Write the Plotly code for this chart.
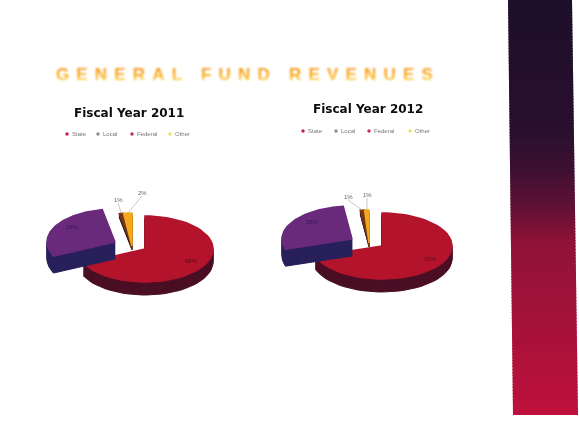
import numpy as np
import plotly.graph_objects as go

# General fund revenue shares by source, percent of total
sources = ["State", "Local", "Federal", "Other"]
fy2011 = [68, 29, 1, 2]
fy2012 = [70, 28, 1, 1]
panel_titles = ["Fiscal Year 2011", "Fiscal Year 2012"]
value_labels_2011 = ["68%", "29%", "1%", "2%"]
value_labels_2012 = ["70%", "28%", "1%", "1%"]
chart_title = "GENERAL FUND REVENUES"

top_colors = ["#b3142c", "#6a2a7c", "#7a3416", "#f4a81e"]
side_colors = ["#4a0f24", "#28205a", "#3a1a20", "#6a3a14"]
legend_colors = ["#c81e4a", "#8a8a98", "#c0305a", "#f2e060"]
label_colors = ["#5a0a18", "#3a1a55", "#666666", "#666666"]

W, H = 579, 425

# Pixel shift of each exploded slice, and how thick each slice is drawn
slice_shift = [(0, 0), (-30, 7), (-13, 3), (-13, 3)]
slice_depth = [13, 17, 4, 4]

fig = go.Figure()


def add_pie(values, labels, cx, cy, rx, ry, label_at):
    """Draw a tilted pie; angles run clockwise from 12 o'clock."""
    total = sum(values)
    angle = 0.0
    for i, v in enumerate(values):
        span = 360 * v / total
        ox, oy = cx + slice_shift[i][0], cy + slice_shift[i][1]
        depth = slice_depth[i]
        t = np.radians(np.linspace(angle, angle + span, 60))
        ex, ey = ox + rx * np.sin(t), oy + ry * np.cos(t)
        top_x, top_y = np.r_[ox, ex, ox], np.r_[oy, ey, oy]
        # stack copies of the outline downward to form the side wall
        for k in range(depth, 0, -1):
            fig.add_trace(go.Scatter(x=top_x, y=top_y - k, mode="lines", fill="toself",
                                     fillcolor=side_colors[i],
                                     line=dict(width=1, color=side_colors[i]),
                                     hoverinfo="skip", showlegend=False))
        fig.add_trace(go.Scatter(x=top_x, y=top_y, mode="lines", fill="toself",
                                 fillcolor=top_colors[i],
                                 line=dict(width=1.5, color=top_colors[i]),
                                 hoverinfo="skip", showlegend=False))
        lx, ly = label_at[i]
        if i >= 2:
            # thin leader from the small slices' labels to their rim
            mid = len(ex) // 2
            fig.add_trace(go.Scatter(x=[lx, ex[mid]], y=[ly - 3, ey[mid]], mode="lines",
                                     line=dict(width=0.6, color="#9aa890"),
                                     hoverinfo="skip", showlegend=False))
        fig.add_annotation(x=lx, y=ly, text=labels[i], showarrow=False,
                           font=dict(size=6, color=label_colors[i], family="Liberation Sans"))
        angle += span


add_pie(fy2011, value_labels_2011, 145, H - 249, 68, 33,
        [(191, H - 261), (72, H - 227), (118, H - 200), (142, H - 193)])
add_pie(fy2012, value_labels_2012, 382, H - 246, 70, 33,
        [(430, H - 259), (312, H - 222), (348, H - 197), (367, H - 195)])

# skewed vertical gradient band on the right edge, built from thin stacked strips
band_rows = np.array([0, 130, 170, 205, 240, 333, 415])
band_colors = np.array([[30, 15, 42], [40, 16, 46], [64, 16, 50], [96, 16, 54],
                        [144, 18, 56], [168, 18, 56], [192, 16, 62]])
for y0 in range(0, 415, 3):
    y1 = min(y0 + 4, 415)
    rgb = [int(np.interp(y0, band_rows, band_colors[:, c])) for c in range(3)]
    left0, left1 = 508 + 5 * y0 / 415, 508 + 5 * y1 / 415
    right0, right1 = 572 + 6 * y0 / 415, 572 + 6 * y1 / 415
    fig.add_shape(type="path", layer="below", line=dict(width=0),
                  fillcolor=f"rgb({rgb[0]},{rgb[1]},{rgb[2]})",
                  path=f"M{left0},{H - y0} L{right0},{H - y0} L{right1},{H - y1} L{left1},{H - y1} Z")

for title, x, y in zip(panel_titles, [129, 368], [113, 109]):
    fig.add_annotation(x=x, y=H - y, text=f"<b>{title}</b>", showarrow=False,
                       font=dict(size=12, color="#0c0c0c", family="DejaVu Sans"))

# legends, one row under each panel title
legend_rows = [(134, [67, 98, 132, 170]), (131, [303, 336, 369, 410])]
for y0, xs in legend_rows:
    for x, name, color in zip(xs, sources, legend_colors):
        fig.add_trace(go.Scatter(x=[x], y=[H - y0], mode="markers", showlegend=False, hoverinfo="skip",
                                 marker=dict(size=3.5, color=color)))
        fig.add_annotation(x=x + 3, y=H - y0, text=name, showarrow=False, xanchor="left",
                           font=dict(size=6, color="#777777", family="Liberation Sans"))

fig.update_layout(width=W, height=H, margin=dict(l=0, r=0, t=0, b=0), autosize=False,
                  paper_bgcolor="#ffffff", plot_bgcolor="#ffffff",
                  title=dict(text=f"<b>{chart_title}</b>", x=248 / W, xanchor="center",
                             y=1 - 74 / H, yanchor="middle",
                             font=dict(size=17, color="#fbc64a", family="Liberation Sans")),
                  xaxis=dict(range=[0, W], visible=False, fixedrange=True),
                  yaxis=dict(range=[0, H], visible=False, fixedrange=True))

# soft, grainy rendering of the printed page plus a warm gradient fill on the heading
soften = """
var s = document.createElement('style');
s.textContent = '.annotation text{filter:blur(0.5px)} .scatterlayer{filter:blur(0.6px)}'
  + ' .shapelayer{filter:blur(0.6px)}'
  + ' .gtitle{letter-spacing:7.2px;filter:blur(1px);fill:url(#headfill) !important}';
document.head.appendChild(s);
var ns = 'http://www.w3.org/2000/svg';
var svg = document.querySelector('svg.main-svg');
var defs = svg.querySelector('defs') || svg.appendChild(document.createElementNS(ns, 'defs'));
var g = document.createElementNS(ns, 'linearGradient');
g.setAttribute('id', 'headfill');
g.setAttribute('x1', '0'); g.setAttribute('y1', '0'); g.setAttribute('x2', '0'); g.setAttribute('y2', '1');
[['0', '#f78a20'], ['0.55', '#fbb020'], ['1', '#ffe880']].forEach(function (p) {
  var st = document.createElementNS(ns, 'stop');
  st.setAttribute('offset', p[0]); st.setAttribute('stop-color', p[1]);
  g.appendChild(st);
});
defs.appendChild(g);
"""
fig.write_html("out.html", post_script=soften, config={"displayModeBar": False})
